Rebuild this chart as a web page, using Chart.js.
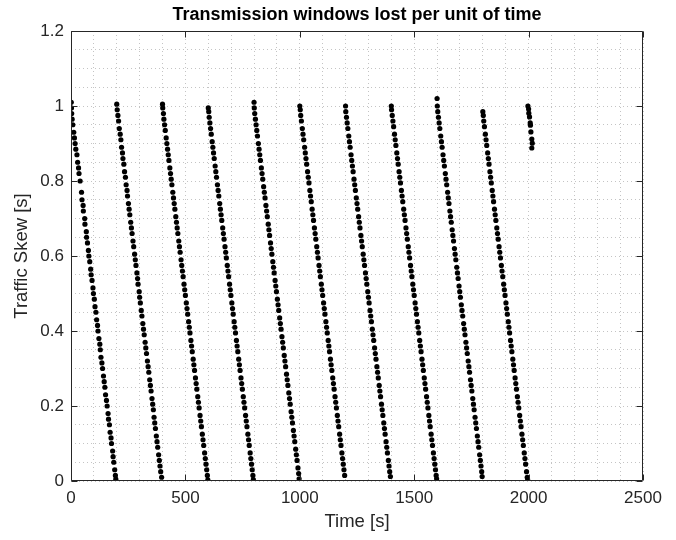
<!DOCTYPE html>
<html>
<head>
<meta charset="utf-8">
<script src="https://cdn.jsdelivr.net/npm/chart.js@4.4.1/dist/chart.umd.min.js"></script>
<style>
  html, body { margin: 0; padding: 0; background: #fff; }
  #wrap { width: 676px; height: 540px; }
</style>
</head>
<body>
<div id="wrap"><canvas id="chart" width="676" height="540"></canvas></div>
<script>
// Tick labels (major) of both axes
const xTicks = [0, 500, 1000, 1500, 2000, 2500];
const yTicks = [0, 0.2, 0.4, 0.6, 0.8, 1, 1.2];

// Each sweep: [time (s), traffic skew (s)]
const sweep01 = [[1,1.01],[2,0.995],[3,0.98],[5,0.965],[8,0.95],[12,0.93],[15,0.915],[18,0.9],[21,0.885],[26,0.87],[29,0.85],[33,0.835],[35,0.82],[40,0.8],[46,0.77],[48,0.75],[53,0.735],[54,0.72],[60,0.7],[61,0.685],[67,0.665],[68,0.65],[72,0.635],[76,0.615],[78,0.6],[82,0.585],[86,0.565],[88,0.55],[92,0.535],[96,0.515],[98,0.5],[102,0.485],[105,0.465],[109,0.45],[112,0.43],[116,0.415],[118,0.4],[122,0.38],[126,0.365],[128,0.35],[131,0.33],[135,0.315],[138,0.3],[142,0.28],[145,0.265],[148,0.25],[151,0.23],[155,0.215],[158,0.2],[162,0.18],[164,0.165],[168,0.15],[171,0.13],[175,0.115],[177,0.1],[182,0.08],[184,0.065],[187,0.05],[191,0.03],[194,0.015],[196,0.005]];
const sweep02 = [[200,1.005],[202,0.99],[205,0.975],[208,0.96],[211,0.94],[215,0.925],[218,0.91],[221,0.89],[225,0.875],[227,0.86],[231,0.845],[234,0.825],[238,0.81],[241,0.79],[245,0.775],[247,0.76],[251,0.74],[254,0.725],[257,0.71],[261,0.69],[264,0.675],[267,0.66],[271,0.64],[274,0.625],[278,0.605],[281,0.59],[284,0.575],[288,0.555],[291,0.54],[293,0.525],[298,0.505],[300,0.49],[303,0.475],[307,0.455],[310,0.44],[314,0.42],[317,0.405],[320,0.39],[324,0.37],[327,0.355],[330,0.34],[334,0.32],[337,0.305],[340,0.29],[344,0.27],[347,0.255],[350,0.24],[354,0.22],[357,0.205],[360,0.19],[363,0.17],[366,0.155],[369,0.14],[373,0.12],[376,0.105],[379,0.09],[383,0.07],[386,0.055],[389,0.04],[392,0.025],[396,0.01]];
const sweep03 = [[400,1.005],[401,0.995],[404,0.98],[406,0.965],[409,0.95],[412,0.935],[416,0.915],[419,0.9],[422,0.885],[425,0.87],[428,0.855],[432,0.835],[435,0.82],[438,0.805],[441,0.79],[445,0.77],[448,0.755],[451,0.74],[454,0.725],[458,0.705],[461,0.69],[464,0.675],[467,0.66],[471,0.64],[474,0.625],[477,0.61],[481,0.59],[484,0.575],[487,0.56],[490,0.545],[494,0.525],[497,0.51],[500,0.495],[504,0.475],[507,0.46],[510,0.445],[514,0.425],[517,0.41],[520,0.395],[524,0.375],[527,0.36],[530,0.345],[534,0.325],[537,0.31],[540,0.295],[544,0.275],[547,0.26],[550,0.245],[554,0.225],[557,0.21],[560,0.195],[564,0.175],[567,0.16],[570,0.145],[574,0.125],[577,0.11],[580,0.095],[584,0.075],[587,0.06],[590,0.045],[593,0.03],[596,0.015],[598,0.003]];
const sweep04 = [[600,0.995],[602,0.985],[604,0.97],[607,0.955],[610,0.94],[613,0.925],[617,0.905],[620,0.89],[623,0.875],[626,0.86],[630,0.84],[633,0.825],[636,0.81],[640,0.79],[643,0.775],[646,0.76],[650,0.74],[653,0.725],[656,0.71],[659,0.695],[663,0.675],[666,0.66],[669,0.645],[673,0.625],[676,0.61],[679,0.595],[683,0.575],[686,0.56],[689,0.545],[693,0.525],[696,0.51],[699,0.495],[703,0.475],[706,0.46],[709,0.445],[713,0.425],[716,0.41],[719,0.395],[723,0.375],[726,0.36],[729,0.345],[733,0.325],[736,0.31],[739,0.295],[743,0.275],[746,0.26],[749,0.245],[753,0.225],[756,0.21],[759,0.195],[763,0.175],[766,0.16],[769,0.145],[773,0.125],[776,0.11],[779,0.095],[783,0.075],[786,0.06],[789,0.045],[792,0.03],[795,0.015],[797,0.004]];
const sweep05 = [[800,1.01],[801,0.995],[803,0.98],[806,0.965],[809,0.95],[812,0.935],[815,0.92],[819,0.9],[822,0.885],[825,0.87],[828,0.855],[832,0.835],[835,0.82],[838,0.805],[842,0.785],[845,0.77],[848,0.755],[852,0.735],[855,0.72],[858,0.705],[862,0.685],[865,0.67],[868,0.655],[872,0.635],[875,0.62],[878,0.605],[882,0.585],[885,0.57],[888,0.555],[892,0.535],[895,0.52],[898,0.505],[902,0.485],[905,0.47],[908,0.455],[912,0.435],[915,0.42],[918,0.405],[922,0.385],[925,0.37],[928,0.355],[932,0.335],[935,0.32],[938,0.305],[942,0.285],[945,0.27],[948,0.255],[952,0.235],[955,0.22],[958,0.205],[962,0.185],[965,0.17],[968,0.155],[972,0.135],[975,0.12],[978,0.105],[982,0.085],[985,0.07],[988,0.055],[992,0.035],[995,0.02],[997,0.006]];
const sweep06 = [[1000,1.0],[1002,0.99],[1004,0.975],[1007,0.96],[1011,0.94],[1014,0.925],[1017,0.91],[1021,0.89],[1024,0.875],[1027,0.86],[1030,0.845],[1034,0.825],[1037,0.81],[1040,0.795],[1044,0.775],[1047,0.76],[1050,0.745],[1054,0.725],[1057,0.71],[1060,0.695],[1064,0.675],[1067,0.66],[1070,0.645],[1074,0.625],[1077,0.61],[1080,0.595],[1084,0.575],[1087,0.56],[1090,0.545],[1094,0.525],[1097,0.51],[1100,0.495],[1104,0.475],[1107,0.46],[1110,0.445],[1114,0.425],[1117,0.41],[1120,0.395],[1124,0.375],[1127,0.36],[1130,0.345],[1134,0.325],[1137,0.31],[1140,0.295],[1144,0.275],[1147,0.26],[1150,0.245],[1154,0.225],[1157,0.21],[1160,0.195],[1164,0.175],[1167,0.16],[1170,0.145],[1174,0.125],[1177,0.11],[1180,0.095],[1184,0.075],[1187,0.06],[1190,0.045],[1193,0.03],[1196,0.015]];
const sweep07 = [[1200,1.0],[1201,0.985],[1204,0.97],[1207,0.955],[1210,0.94],[1214,0.92],[1217,0.905],[1220,0.89],[1224,0.87],[1227,0.855],[1230,0.84],[1233,0.825],[1237,0.805],[1240,0.79],[1243,0.775],[1247,0.755],[1250,0.74],[1253,0.725],[1257,0.705],[1260,0.69],[1263,0.675],[1267,0.655],[1270,0.64],[1273,0.625],[1277,0.605],[1280,0.59],[1283,0.575],[1287,0.555],[1290,0.54],[1293,0.525],[1297,0.505],[1300,0.49],[1303,0.475],[1307,0.455],[1310,0.44],[1313,0.425],[1317,0.405],[1320,0.39],[1323,0.375],[1327,0.355],[1330,0.34],[1333,0.325],[1337,0.305],[1340,0.29],[1343,0.275],[1347,0.255],[1350,0.24],[1353,0.225],[1357,0.205],[1360,0.19],[1363,0.175],[1367,0.155],[1370,0.14],[1373,0.125],[1377,0.105],[1380,0.09],[1383,0.075],[1387,0.055],[1390,0.04],[1393,0.025],[1396,0.012]];
const sweep08 = [[1400,1.0],[1401,0.99],[1404,0.975],[1407,0.96],[1410,0.945],[1414,0.925],[1417,0.91],[1420,0.895],[1424,0.875],[1427,0.86],[1430,0.845],[1434,0.825],[1437,0.81],[1440,0.795],[1444,0.775],[1447,0.76],[1450,0.745],[1454,0.725],[1457,0.71],[1460,0.695],[1464,0.675],[1467,0.66],[1470,0.645],[1474,0.625],[1477,0.61],[1480,0.595],[1484,0.575],[1487,0.56],[1490,0.545],[1494,0.525],[1497,0.51],[1500,0.495],[1504,0.475],[1507,0.46],[1510,0.445],[1514,0.425],[1517,0.41],[1520,0.395],[1524,0.375],[1527,0.36],[1530,0.345],[1534,0.325],[1537,0.31],[1540,0.295],[1544,0.275],[1547,0.26],[1550,0.245],[1554,0.225],[1557,0.21],[1560,0.195],[1564,0.175],[1567,0.16],[1570,0.145],[1574,0.125],[1577,0.11],[1580,0.095],[1584,0.075],[1587,0.06],[1590,0.045],[1593,0.03],[1596,0.015],[1598,0.006]];
const sweep09 = [[1600,1.02],[1601,1.0],[1603,0.985],[1606,0.97],[1609,0.955],[1612,0.94],[1616,0.92],[1619,0.905],[1622,0.89],[1626,0.87],[1629,0.855],[1632,0.84],[1636,0.82],[1639,0.805],[1642,0.79],[1646,0.77],[1649,0.755],[1652,0.74],[1656,0.72],[1659,0.705],[1662,0.69],[1666,0.67],[1669,0.655],[1672,0.64],[1676,0.62],[1679,0.605],[1682,0.59],[1686,0.57],[1689,0.555],[1692,0.54],[1696,0.52],[1699,0.505],[1702,0.49],[1706,0.47],[1709,0.455],[1712,0.44],[1716,0.42],[1719,0.405],[1722,0.39],[1726,0.37],[1729,0.355],[1732,0.34],[1736,0.32],[1739,0.305],[1742,0.29],[1746,0.27],[1749,0.255],[1752,0.24],[1756,0.22],[1759,0.205],[1762,0.19],[1766,0.17],[1769,0.155],[1772,0.14],[1776,0.12],[1779,0.105],[1782,0.09],[1786,0.07],[1789,0.055],[1792,0.04],[1795,0.025],[1797,0.012]];
const sweep10 = [[1800,0.985],[1802,0.975],[1804,0.96],[1807,0.945],[1811,0.925],[1814,0.91],[1817,0.895],[1821,0.875],[1824,0.86],[1827,0.845],[1831,0.825],[1834,0.81],[1837,0.795],[1841,0.775],[1844,0.76],[1847,0.745],[1851,0.725],[1854,0.71],[1857,0.695],[1861,0.675],[1864,0.66],[1867,0.645],[1871,0.625],[1874,0.61],[1877,0.595],[1881,0.575],[1884,0.56],[1887,0.545],[1891,0.525],[1894,0.51],[1897,0.495],[1901,0.475],[1904,0.46],[1907,0.445],[1911,0.425],[1914,0.41],[1917,0.395],[1921,0.375],[1924,0.36],[1927,0.345],[1931,0.325],[1934,0.31],[1937,0.295],[1941,0.275],[1944,0.26],[1947,0.245],[1951,0.225],[1954,0.21],[1957,0.195],[1961,0.175],[1964,0.16],[1967,0.145],[1971,0.125],[1974,0.11],[1977,0.095],[1981,0.075],[1984,0.06],[1987,0.045],[1991,0.025],[1994,0.01],[1996,0.003]];
const sweep11 = [[1997,1.0],[2000,0.992],[2001,0.981],[2004,0.971],[2007,0.955],[2008,0.949],[2010,0.931],[2014,0.912],[2016,0.901],[2014,0.888]];

const sweeps = [sweep01, sweep02, sweep03, sweep04, sweep05, sweep06, sweep07, sweep08, sweep09, sweep10, sweep11];

const AXIS_COLOR = '#262626';
const GRID_COLOR = '#c4c4c4';

Chart.defaults.font.family = '"Liberation Sans", Arial, Helvetica, sans-serif';
Chart.defaults.color = AXIS_COLOR;

// box round the axes + inward major tick marks, like matlab
const boxPlugin = {
    id: 'boxPlugin',
    afterDraw(chart) {
        const { ctx, chartArea: a, scales: { x, y } } = chart;
        const L = Math.round(a.left) + 0.5, R = Math.round(a.right) - 0.5;
        const T = Math.round(a.top) + 0.5, B = Math.round(a.bottom) - 0.5;
        ctx.save();
        ctx.strokeStyle = AXIS_COLOR;
        ctx.lineWidth = 1;
        ctx.beginPath();
        xTicks.forEach(v => {
            const px = Math.round(x.getPixelForValue(v)) + 0.5;
            ctx.moveTo(px, B); ctx.lineTo(px, B - 6);
            ctx.moveTo(px, T); ctx.lineTo(px, T + 6);
        });
        yTicks.forEach(v => {
            const py = Math.round(y.getPixelForValue(v)) + 0.5;
            ctx.moveTo(L, py); ctx.lineTo(L + 6, py);
            ctx.moveTo(R, py); ctx.lineTo(R - 6, py);
        });
        ctx.rect(L, T, R - L, B - T);
        ctx.stroke();
        ctx.restore();
    }
};

const points = [];
sweeps.forEach(s => s.forEach(([t, v]) => points.push({ x: t, y: v })));

new Chart(document.getElementById('chart'), {
    type: 'scatter',
    data: {
        datasets: [{
            label: 'skew',
            data: points,
            backgroundColor: '#000',
            borderWidth: 0,
            pointRadius: 2.6,
            pointHoverRadius: 2.6
        }]
    },
    options: {
        responsive: false,
        devicePixelRatio: 1,
        animation: false,
        layout: { padding: { left: 0, right: 33, top: 0, bottom: 0 } },
        plugins: {
            legend: { display: false },
            tooltip: { enabled: false },
            title: {
                display: true,
                fullSize: false,
                text: 'Transmission windows lost per unit of time',
                color: '#000',
                font: { size: 18, weight: 'bold' },
                padding: { top: 4, bottom: 5.4 }
            }
        },
        scales: {
            x: {
                type: 'linear',
                min: 0,
                max: 2500,
                afterFit(scale) { scale.height = 59; },
                border: { display: false, dash: [1, 3] },
                grid: { color: GRID_COLOR, drawTicks: false },
                ticks: {
                    stepSize: 100,
                    autoSkip: false,
                    maxRotation: 0,
                    padding: 7,
                    font: { size: 17 },
                    callback: v => (v % 500 === 0 ? String(v) : '')
                },
                title: {
                    display: true,
                    text: 'Time [s]',
                    font: { size: 18.5 },
                    padding: { top: 0, bottom: 7 }
                }
            },
            y: {
                type: 'linear',
                min: 0,
                max: 1.2,
                afterFit(scale) { scale.width = 71; },
                border: { display: false, dash: [1, 3] },
                grid: { color: GRID_COLOR, drawTicks: false },
                ticks: {
                    stepSize: 0.05,
                    autoSkip: false,
                    padding: 7,
                    font: { size: 17 },
                    callback: v => {
                        const r = Math.round(v * 20);
                        return r % 4 === 0 ? String(r / 20) : '';
                    }
                },
                title: {
                    display: true,
                    text: 'Traffic Skew [s]',
                    font: { size: 18.5 },
                    padding: { top: 11, bottom: 0 }
                }
            }
        }
    },
    plugins: [boxPlugin]
});
</script>
</body>
</html>
